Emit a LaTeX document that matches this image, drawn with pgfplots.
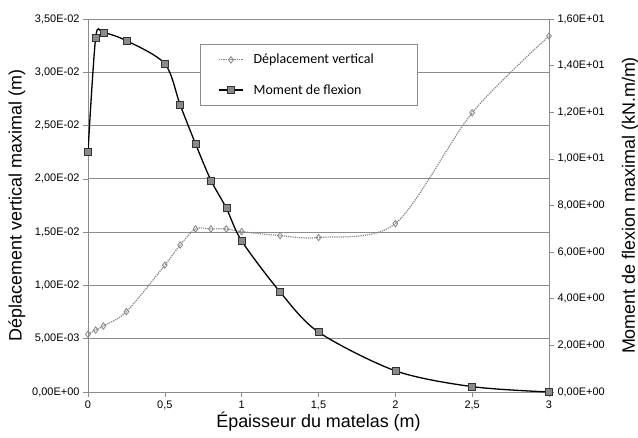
\documentclass[border=0pt]{standalone}
\usepackage{fontspec}
\setmainfont{Liberation Sans}
\newfontfamily\legendfont{Carlito}
\usepackage{pgfplots}
\pgfplotsset{compat=1.18}

\definecolor{gridgray}{HTML}{8C8C8C}
\definecolor{dispgray}{HTML}{858585}
\definecolor{markgray}{HTML}{8A8A8A}

\pgfplotsset{
  base/.style={
    scale only axis, width=461bp, height=373bp,
    xmin=0, xmax=3,
    scaled x ticks=false, scaled y ticks=false,
    tick align=outside, major tick length=5bp,
    tick style={gridgray, line width=0.6bp},
    axis line style={gridgray, line width=0.8bp},
    ticklabel style={font=\fontsize{11}{13}\selectfont},
    label style={font=\fontsize{18}{21}\selectfont},
    legend image code/.code={\draw[mark repeat=2,mark phase=2,##1] plot coordinates {(0bp,0bp) (12bp,0bp) (24bp,0bp)};},
  },
  disp/.style={dispgray, densely dotted, line width=1.2bp, smooth, tension=0.5,
    mark=diamond, mark size=3.2bp, mark options={solid, fill=white, draw=dispgray, line width=0.8bp}},
  mom/.style={black, line width=1.3bp, smooth, tension=0.5,
    mark=square*, mark size=3.5bp, mark options={solid, fill=markgray, draw=black!80, line width=0.6bp}},
}

\begin{document}
\begin{tikzpicture}
\begin{axis}[
  base, name=main,
  axis x line*=bottom, axis y line*=left,
  ymin=0, ymax=0.035,
  ytick={0,0.005,0.01,0.015,0.02,0.025,0.03,0.035},
  yticklabels={{0,00E+00},{5,00E-03},{1,00E-02},{1,50E-02},{2,00E-02},{2,50E-02},{3,00E-02},{3,50E-02}},
  xtick={0,0.5,1,1.5,2,2.5,3},
  xticklabels={0,{0,5},1,{1,5},2,{2,5},3},
  ymajorgrids, grid style={gridgray, line width=0.8bp},
  xlabel={Épaisseur du matelas (m)},
  ylabel={Déplacement vertical maximal (m)},
  xlabel style={at={(axis description cs:0.5,-0.078)}, anchor=center},
  ylabel style={at={(axis description cs:-0.154,0.5)}, anchor=center},
]
\addplot[disp] coordinates {
  (0,0.00541) (0.05,0.00582) (0.1,0.00619) (0.25,0.00754)
  (0.5,0.0119) (0.6,0.0138) (0.7,0.0153) (0.8,0.0153)
  (0.9,0.0153) (1.0,0.01505) (1.25,0.01467) (1.5,0.0145)
  (2.0,0.0158) (2.5,0.0262) (3.0,0.0334)
};
\end{axis}
\begin{axis}[
  base,
  axis x line=none, axis y line*=right,
  ymin=0, ymax=16,
  ytick={0,2,4,6,8,10,12,14,16},
  yticklabels={{0,00E+00},{2,00E+00},{4,00E+00},{6,00E+00},{8,00E+00},{1,00E+01},{1,20E+01},{1,40E+01},{1,60E+01}},
  ylabel={Moment de flexion maximal (kN.m/m)},
  ylabel style={at={(axis description cs:1.176,0.5)}, anchor=center},
  legend style={at={(0.243,0.933)}, anchor=north west, draw=gridgray, line width=0.6bp,
    fill=white, font=\legendfont\fontsize{14}{16}\selectfont,
    inner xsep=18bp, inner ysep=8bp, row sep=15bp, column sep=8bp},
  legend cell align=left,
]
\addlegendimage{disp}
\addlegendentry{Déplacement vertical\hspace*{24bp}}
\addplot[mom] coordinates {
  (0,10.3) (0.05,15.2) (0.1,15.41) (0.25,15.07)
  (0.5,14.08) (0.6,12.31) (0.7,10.64) (0.8,9.08)
  (0.9,7.89) (1.0,6.48) (1.25,4.29) (1.5,2.57)
  (2.0,0.91) (2.5,0.23) (3.0,0.0)
};
\addlegendentry{Moment de flexion}
\end{axis}
\pgfresetboundingbox
\path ([xshift=-88bp,yshift=-46bp]main.south west) rectangle ([xshift=89bp,yshift=19bp]main.north east);
\end{tikzpicture}
\end{document}
